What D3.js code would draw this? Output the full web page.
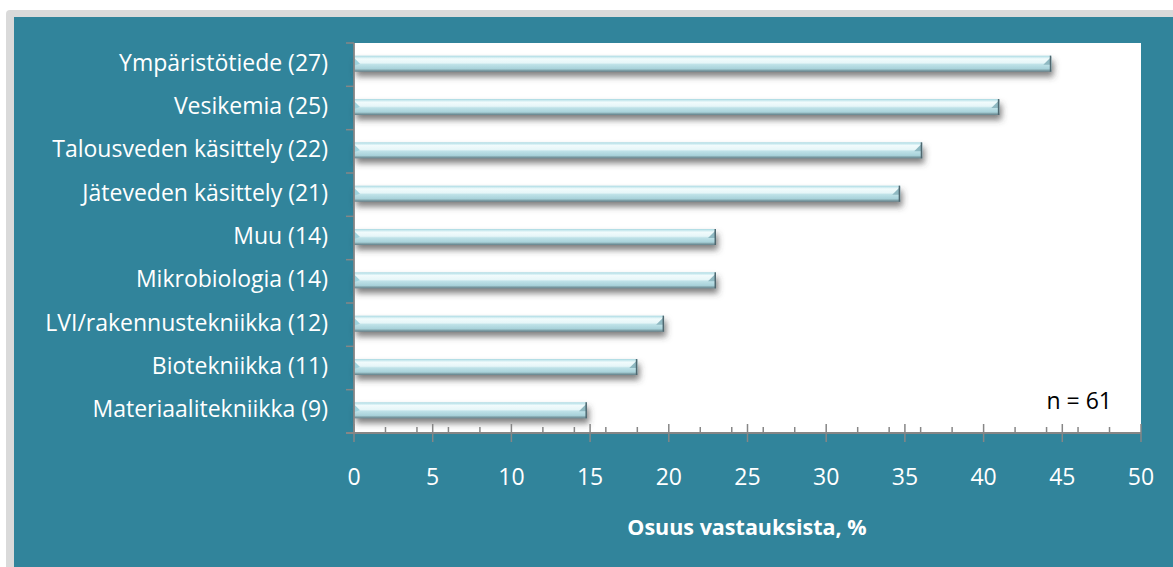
<!DOCTYPE html>
<html>
<head>
<meta charset="utf-8">
<script src="https://cdn.jsdelivr.net/npm/d3@7"></script>
<style>
  body { margin: 0; background: #fff; }
  svg { display: block; }
  text { font-family: "Open Sans", "Noto Sans", sans-serif; }
</style>
</head>
<body>
<div id="chart"></div>
<script>
// data
const categories = [
  "Ympäristötiede (27)",
  "Vesikemia (25)",
  "Talousveden käsittely (22)",
  "Jäteveden käsittely (21)",
  "Muu (14)",
  "Mikrobiologia (14)",
  "LVI/rakennustekniikka (12)",
  "Biotekniikka (11)",
  "Materiaalitekniikka (9)"
];
const shares = [44.3, 41.0, 36.1, 34.7, 23.0, 23.0, 19.7, 18.0, 14.8];
const xTicks = [0, 5, 10, 15, 20, 25, 30, 35, 40, 45, 50];
const xMinor = d3.range(0, 51, 2);
const xTitle = "Osuus vastauksista, %";
const note = "n = 61";

const width = 1173, height = 567;
const plot = { left: 354, right: 1141, top: 43, bottom: 433 };

const svg = d3.select("#chart").append("svg")
  .attr("width", width)
  .attr("height", height);

const defs = svg.append("defs");

const grad = defs.append("linearGradient")
  .attr("id", "barGrad")
  .attr("x1", 0).attr("y1", 0).attr("x2", 0).attr("y2", 1);
[
  [0, "#a8d8e1"], [0.1, "#cdebf0"], [0.2, "#f1fbfc"], [0.45, "#e6f6f8"],
  [0.55, "#bfe2e8"], [0.82, "#a8d2da"], [0.9, "#86a9b0"], [1, "#62808a"]
].forEach(s => grad.append("stop").attr("offset", s[0]).attr("stop-color", s[1]));

const shadow = defs.append("filter")
  .attr("id", "shadow")
  .attr("x", "-5%").attr("y", "-50%").attr("width", "110%").attr("height", "250%");
shadow.append("feDropShadow")
  .attr("dx", 2).attr("dy", 5)
  .attr("stdDeviation", 3)
  .attr("flood-color", "#404040")
  .attr("flood-opacity", 0.65);

// outer frame
svg.append("rect")
  .attr("x", 6).attr("y", 10)
  .attr("width", width).attr("height", height)
  .attr("rx", 4)
  .attr("fill", "#dadada");
svg.append("rect")
  .attr("x", 14).attr("y", 17)
  .attr("width", width).attr("height", height)
  .attr("fill", "#31849b");

// plot area
svg.append("rect")
  .attr("x", plot.left).attr("y", plot.top)
  .attr("width", plot.right - plot.left)
  .attr("height", plot.bottom - plot.top)
  .attr("fill", "#fff");

const x = d3.scaleLinear().domain([0, 50]).range([plot.left, plot.right]);
const y = d3.scaleBand().domain(categories).range([plot.top, plot.bottom]);

const barH = 16;
const barTop = d => y(d) + y.bandwidth() / 2 - barH / 2 - 1;

// bars
const bars = svg.append("g").selectAll("g")
  .data(categories)
  .join("g")
  .attr("filter", "url(#shadow)");

bars.append("rect")
  .attr("x", x(0))
  .attr("y", barTop)
  .attr("width", (d, i) => x(shares[i]) - x(0))
  .attr("height", barH)
  .attr("fill", "url(#barGrad)");

// left bevel
bars.append("path")
  .attr("d", d => {
    const t = barTop(d), x0 = x(0);
    return `M${x0},${t + 2} L${x0 + 6},${t + 8} L${x0},${t + 10} Z`;
  })
  .attr("fill", "#9fd3de");

// right bevel
bars.append("path")
  .attr("d", (d, i) => {
    const t = barTop(d), xe = x(shares[i]);
    return `M${xe - 8},${t + 9} L${xe},${t + 1} L${xe},${t + 9} Z`;
  })
  .attr("fill", "#8fb9c2");
bars.append("line")
  .attr("x1", (d, i) => x(shares[i]) - 0.75)
  .attr("x2", (d, i) => x(shares[i]) - 0.75)
  .attr("y1", barTop)
  .attr("y2", d => barTop(d) + barH)
  .attr("stroke", "#4f6870")
  .attr("stroke-width", 1.5);

// axes
const axisColor = "#868686";
const gx = svg.append("g");
gx.selectAll(".minor")
  .data(xMinor.filter(v => v % 5 !== 0))
  .join("line")
  .attr("x1", d => x(d)).attr("x2", d => x(d))
  .attr("y1", plot.bottom - 6).attr("y2", plot.bottom)
  .attr("stroke", axisColor).attr("stroke-width", 1.5);
gx.selectAll(".major")
  .data(xTicks)
  .join("line")
  .attr("x1", d => x(d)).attr("x2", d => x(d))
  .attr("y1", plot.bottom - 9).attr("y2", plot.bottom + 9)
  .attr("stroke", axisColor).attr("stroke-width", 1.5);
gx.append("line")
  .attr("x1", x(0) - 8).attr("x2", x(50))
  .attr("y1", plot.bottom).attr("y2", plot.bottom)
  .attr("stroke", axisColor).attr("stroke-width", 1.8);
gx.selectAll("text")
  .data(xTicks)
  .join("text")
  .attr("x", d => x(d))
  .attr("y", 477)
  .attr("dy", "0.35em")
  .attr("text-anchor", "middle")
  .attr("fill", "#fff")
  .style("font-size", "23px")
  .text(d => d);

const gy = svg.append("g");
gy.append("line")
  .attr("x1", x(0)).attr("x2", x(0))
  .attr("y1", plot.top).attr("y2", plot.bottom)
  .attr("stroke", axisColor).attr("stroke-width", 1.8);
gy.selectAll(".ytick")
  .data(categories.concat(["end"]))
  .join("line")
  .attr("x1", x(0) - 8).attr("x2", x(0))
  .attr("y1", (d, i) => i < categories.length ? y(d) : plot.bottom)
  .attr("y2", (d, i) => i < categories.length ? y(d) : plot.bottom)
  .attr("stroke", axisColor).attr("stroke-width", 1.5);
gy.selectAll("text")
  .data(categories)
  .join("text")
  .attr("x", 328)
  .attr("y", d => y(d) + y.bandwidth() / 2 - 2)
  .attr("dy", "0.35em")
  .attr("text-anchor", "end")
  .attr("fill", "#fff")
  .style("font-size", "23px")
  .text(d => d);

svg.append("text")
  .attr("x", 747).attr("y", 527)
  .attr("dy", "0.35em")
  .attr("text-anchor", "middle")
  .attr("fill", "#fff")
  .style("font-size", "21.5px")
  .style("font-weight", "bold")
  .text(xTitle);

svg.append("text")
  .attr("x", 1112).attr("y", 401)
  .attr("dy", "0.35em")
  .attr("text-anchor", "end")
  .attr("fill", "#000")
  .style("font-size", "23px")
  .text(note);
</script>
</body>
</html>
